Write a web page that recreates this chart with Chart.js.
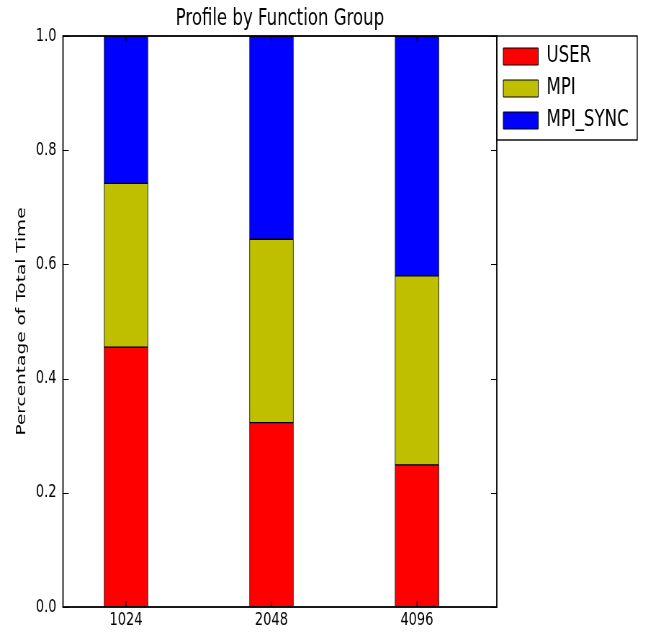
<!DOCTYPE html>
<html>
<head>
<meta charset="utf-8">
<script src="https://cdn.jsdelivr.net/npm/chart.js@4"></script>
<style>
  html, body { margin: 0; background: #fff; overflow: hidden; }
  /* the reference is squeezed sideways, so draw wide and scale it down */
  #wrap { width: 903px; height: 635px; transform: scaleX(0.72); transform-origin: 0 0; }
</style>
</head>
<body>
<div id="wrap"><canvas id="profileChart" width="903" height="635"></canvas></div>
<script>
// data
var groups = ["1024", "2048", "4096"];
var userShare = [0.455, 0.323, 0.249];
var mpiShare = [0.287, 0.321, 0.331];
var mpiSyncShare = [0.258, 0.356, 0.420];
var yTicks = [0, 0.2, 0.4, 0.6, 0.8, 1.0];

var font = "'DejaVu Sans', sans-serif";

function points(values) {
  return values.map(function (v, i) { return { x: i, y: v }; });
}

// matplotlib style frame with inward ticks on all four sides + legend border
var frame = {
  id: 'frame',
  afterDatasetsDraw: function (chart) {
    var a = chart.chartArea, c = chart.ctx;
    var xs = chart.scales.x, ys = chart.scales.y;
    c.save();
    c.strokeStyle = '#000';
    c.lineWidth = 1.2;
    c.beginPath();
    yTicks.forEach(function (t) {
      var y = Math.round(ys.getPixelForValue(t)) + 0.5;
      c.moveTo(a.left, y); c.lineTo(a.left + 8, y);
      c.moveTo(a.right, y); c.lineTo(a.right - 8, y);
    });
    groups.forEach(function (g, i) {
      var x = xs.getPixelForValue(i);
      c.moveTo(x, a.bottom); c.lineTo(x, a.bottom - 6);
      c.moveTo(x, a.top); c.lineTo(x, a.top + 6);
    });
    c.stroke();
    c.lineWidth = 1.8;
    c.strokeRect(a.left, a.top, a.right - a.left, a.bottom - a.top);
    c.lineWidth = 1.4;
    c.strokeRect(a.right, a.top, 195, 104);
    c.restore();
  }
};

var ctx = document.getElementById('profileChart').getContext('2d');

var profileChart = new Chart(ctx, {
  type: 'bar',
  data: {
    datasets: [
      { label: 'USER', data: points(userShare), backgroundColor: '#ff0000' },
      { label: 'MPI', data: points(mpiShare), backgroundColor: '#bfbf00' },
      { label: 'MPI_SYNC', data: points(mpiSyncShare), backgroundColor: '#0000ff' }
    ]
  },
  options: {
    responsive: false,
    animation: false,
    layout: { padding: { left: 0, right: 20, top: 0, bottom: 0 } },
    datasets: {
      bar: { barThickness: 61, borderWidth: 1, borderColor: '#000', borderSkipped: false }
    },
    scales: {
      x: {
        type: 'linear',
        stacked: true,
        offset: false,
        min: -0.433,
        max: 2.549,
        grid: { display: false, drawTicks: false },
        border: { display: false },
        afterFit: function (s) { s.height = 28; },
        ticks: {
          stepSize: 1,
          includeBounds: false,
          autoSkip: false,
          maxRotation: 0,
          padding: 3,
          color: '#000',
          font: { family: font, size: 18 },
          callback: function (v) { return Number.isInteger(v) ? groups[v] : ''; }
        }
      },
      y: {
        stacked: true,
        min: 0,
        max: 1,
        grid: { display: false, drawTicks: false },
        border: { display: false },
        afterFit: function (s) { s.width = 87.5; },
        title: {
          display: true,
          text: 'Percentage of Total Time',
          color: '#000',
          font: { family: font, size: 18.5 },
          padding: { top: 19, bottom: 0 }
        },
        ticks: {
          stepSize: 0.2,
          padding: 9,
          color: '#000',
          font: { family: font, size: 18 },
          callback: function (v) { return v.toFixed(1); }
        }
      }
    },
    plugins: {
      title: {
        display: true,
        fullSize: false,
        text: 'Profile by Function Group',
        color: '#000',
        font: { family: font, size: 23, weight: 'normal' },
        padding: { top: 5, bottom: 3.4 }
      },
      legend: {
        position: 'right',
        align: 'start',
        fullSize: false,
        labels: {
          boxWidth: 48.6,
          boxHeight: 17,
          padding: 9,
          color: '#000',
          font: { family: font, size: 23 }
        }
      },
      tooltip: { enabled: false }
    }
  },
  plugins: [frame]
});
</script>
</body>
</html>
